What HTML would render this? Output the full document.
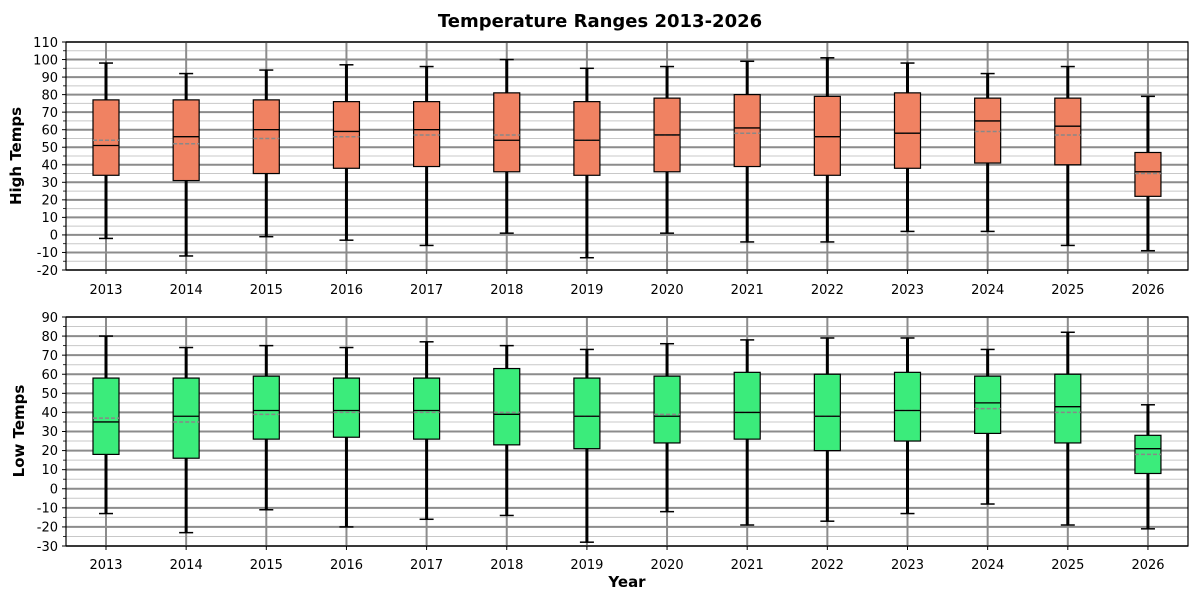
<!DOCTYPE html>
<html><head><meta charset="utf-8"><style>
body{margin:0;background:#fff}
svg{display:block;font-family:"DejaVu Sans","Liberation Sans",sans-serif}
</style></head><body>
<svg id="s" width="1200" height="600" xmlns="http://www.w3.org/2000/svg">
<rect width="1200" height="600" fill="#fff"/>
<g id="g"></g>
<text x="600" y="27" text-anchor="middle" font-size="18" font-weight="bold">Temperature Ranges 2013-2026</text>
<text transform="translate(21,156) rotate(-90)" text-anchor="middle" font-size="15" font-weight="bold">High Temps</text>
<text transform="translate(24,431) rotate(-90)" text-anchor="middle" font-size="15" font-weight="bold">Low Temps</text>
<text x="627" y="587" text-anchor="middle" font-size="15" font-weight="bold">Year</text>
<g font-size="13" text-anchor="end">
<text x="58" y="47">110</text><text x="58" y="64.5">100</text><text x="58" y="82">90</text><text x="58" y="99.5">80</text><text x="58" y="117">70</text><text x="58" y="134.5">60</text><text x="58" y="152">50</text><text x="58" y="169.5">40</text><text x="58" y="187">30</text><text x="58" y="204.5">20</text><text x="58" y="222">10</text><text x="58" y="239.5">0</text><text x="58" y="257">-10</text><text x="58" y="275">-20</text>
<text x="58" y="322">90</text><text x="58" y="341">80</text><text x="58" y="360">70</text><text x="58" y="379">60</text><text x="58" y="398">50</text><text x="58" y="417">40</text><text x="58" y="436">30</text><text x="58" y="455">20</text><text x="58" y="474">10</text><text x="58" y="493.5">0</text><text x="58" y="512.5">-10</text><text x="58" y="531.5">-20</text><text x="58" y="551">-30</text>
</g>
<g font-size="13" text-anchor="middle">
<text x="106" y="294">2013</text><text x="186.2" y="294">2014</text><text x="266.3" y="294">2015</text><text x="346.5" y="294">2016</text><text x="426.6" y="294">2017</text><text x="506.8" y="294">2018</text><text x="586.9" y="294">2019</text><text x="667.1" y="294">2020</text><text x="747.2" y="294">2021</text><text x="827.4" y="294">2022</text><text x="907.5" y="294">2023</text><text x="987.7" y="294">2024</text><text x="1067.8" y="294">2025</text><text x="1148" y="294">2026</text>
<text x="106" y="569">2013</text><text x="186.2" y="569">2014</text><text x="266.3" y="569">2015</text><text x="346.5" y="569">2016</text><text x="426.6" y="569">2017</text><text x="506.8" y="569">2018</text><text x="586.9" y="569">2019</text><text x="667.1" y="569">2020</text><text x="747.2" y="569">2021</text><text x="827.4" y="569">2022</text><text x="907.5" y="569">2023</text><text x="987.7" y="569">2024</text><text x="1067.8" y="569">2025</text><text x="1148" y="569">2026</text>
</g>
</svg>
<script>
(function(){
var g=document.getElementById('g');var h='';
function L(x1,y1,x2,y2,c,w,d){h+='<line x1="'+x1+'" y1="'+y1+'" x2="'+x2+'" y2="'+y2+'" stroke="'+c+'" stroke-width="'+w+'"'+(d?' stroke-dasharray="'+d+'"':'')+'/>';}
var hi=[[98,77,51,54,34,-2],[92,77,56,52,31,-12],[94,77,60,55,35,-1],[97,76,59,56,38,-3],[96,76,60,57,39,-6],[100,81,54,57,36,1],[95,76,54,54,34,-13],[96,78,57,57,36,1],[99,80,61,58,39,-4],[101,79,56,56,34,-4],[98,81,58,58,38,2],[92,78,65,59,41,2],[96,78,62,57,40,-6],[79,47,36,35,22,-9]];
var lo=[[80,58,35,37,18,-13],[74,58,38,35,16,-23],[75,59,41,39,26,-11],[74,58,41,40,27,-20],[77,58,41,40,26,-16],[75,63,39,40,23,-14],[73,58,38,38,21,-28],[76,59,38,39,24,-12],[78,61,40,40,26,-19],[79,60,38,38,20,-17],[79,61,41,41,25,-13],[73,59,45,42,29,-8],[82,60,43,40,24,-19],[44,28,21,18,8,-21]];
function panel(y0,y1,vmax,vmin,data,col){
 var Y=function(v){return y0+(vmax-v)*(y1-y0)/(vmax-vmin);};
 var v,i;
 for(v=vmin;v<=vmax;v+=5){ if(v%10) L(66,Y(v),1188,Y(v),'#c8c8c8',1); }
 for(v=vmin;v<=vmax;v+=10){ L(66,Y(v),1188,Y(v),'#8c8c8c',2); L(62,Y(v),66,Y(v),'#000',1);}
 for(v=vmin+5;v<vmax;v+=10) L(63,Y(v),66,Y(v),'#000',0.8);
 for(i=0;i<14;i++){var x=106+80.15*i; L(x,y0,x,y1,'#8c8c8c',2); L(x,y1,x,y1+4,'#000',1);}
 data.forEach(function(d,i){var x=106+80.15*i;
  L(x,Y(d[0]),x,Y(d[1]),'#000',3); L(x,Y(d[4]),x,Y(d[5]),'#000',3);
  L(x-7,Y(d[0]),x+7,Y(d[0]),'#000',1.5); L(x-7,Y(d[5]),x+7,Y(d[5]),'#000',1.5);
  h+='<rect x="'+(x-13)+'" y="'+Y(d[1])+'" width="26" height="'+(Y(d[4])-Y(d[1]))+'" fill="'+col+'" stroke="#000" stroke-width="1.2"/>';
  L(x-13,Y(d[3]),x+13,Y(d[3]),'#888',1.5,'4,2');
  L(x-13,Y(d[2]),x+13,Y(d[2]),'#000',1.3);
 });
 h+='<rect x="66" y="'+y0+'" width="1122" height="'+(y1-y0)+'" fill="none" stroke="#000" stroke-width="1.2"/>';
}
panel(42,270,110,-20,hi,'#f08262');
panel(317,546,90,-30,lo,'#3bec7b');
g.innerHTML=h;
})();
</script>
</body></html>
